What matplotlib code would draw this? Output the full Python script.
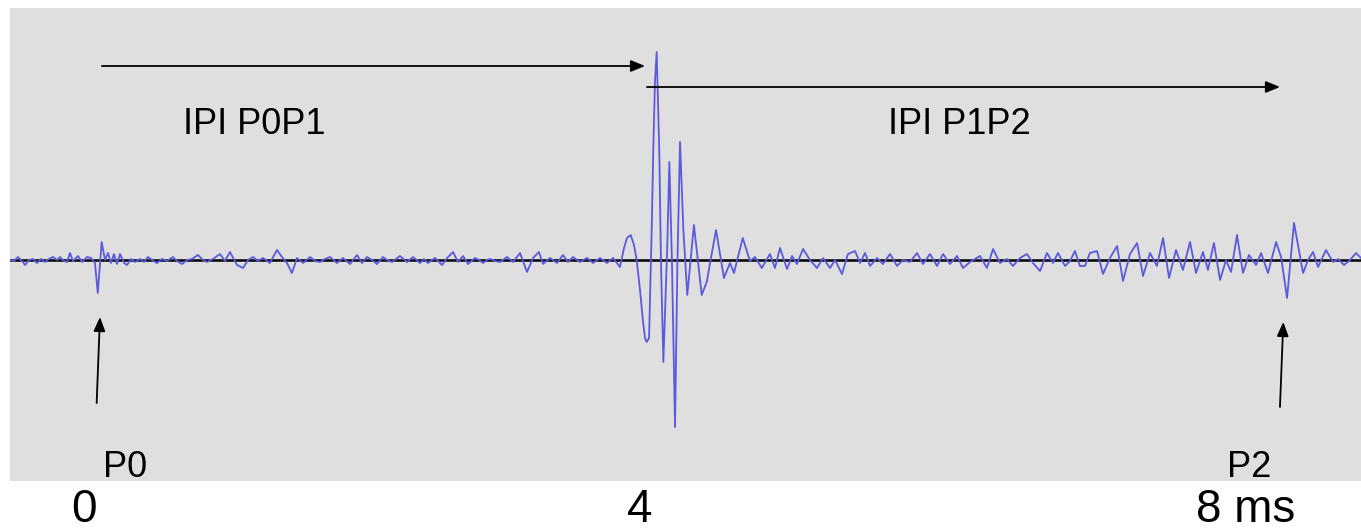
import matplotlib
matplotlib.use('Agg')
import matplotlib.pyplot as plt

# Recorded click waveform (time in ms, amplitude in arbitrary units)
time_ms = [
    -0.532, -0.504, -0.475, -0.446, -0.424, -0.396, -0.367, -0.338, -0.309, -0.281,
    -0.252, -0.223, -0.194, -0.173, -0.144, -0.122, -0.101, -0.079, -0.043, -0.014,
    0.022, 0.050, 0.079, 0.099, 0.127, 0.151, 0.173, 0.194, 0.216, 0.237,
    0.259, 0.288, 0.309, 0.338, 0.367, 0.403, 0.432, 0.460, 0.489, 0.525,
    0.561, 0.597, 0.640, 0.669, 0.705, 0.741, 0.777, 0.820, 0.856, 0.885,
    0.928, 0.978, 1.014, 1.050, 1.101, 1.144, 1.180, 1.216, 1.252, 1.288,
    1.338, 1.388, 1.424, 1.460, 1.496, 1.532, 1.576, 1.626, 1.662, 1.698,
    1.734, 1.770, 1.820, 1.863, 1.914, 1.964, 2.000, 2.036, 2.072, 2.108,
    2.151, 2.180, 2.216, 2.245, 2.273, 2.324, 2.367, 2.417, 2.446, 2.475,
    2.525, 2.576, 2.612, 2.655, 2.691, 2.727, 2.763, 2.813, 2.842, 2.871,
    2.899, 2.921, 2.957, 2.993, 3.014, 3.043, 3.086, 3.137, 3.187, 3.230,
    3.273, 3.302, 3.353, 3.403, 3.446, 3.482, 3.518, 3.568, 3.619, 3.662,
    3.712, 3.763, 3.806, 3.856, 3.885, 3.906, 3.933, 3.957, 3.976, 4.000,
    4.022, 4.036, 4.048, 4.065, 4.084, 4.096, 4.108, 4.120, 4.139, 4.151,
    4.168, 4.196, 4.211, 4.230, 4.252, 4.269, 4.288, 4.312, 4.340, 4.388,
    4.444, 4.480, 4.504, 4.547, 4.604, 4.647, 4.676, 4.739, 4.791, 4.827,
    4.876, 4.935, 4.971, 5.007, 5.058, 5.094, 5.129, 5.173, 5.223, 5.273,
    5.317, 5.367, 5.403, 5.453, 5.496, 5.547, 5.583, 5.619, 5.655, 5.705,
    5.748, 5.799, 5.849, 5.892, 5.942, 5.993, 6.036, 6.086, 6.137, 6.180,
    6.230, 6.281, 6.324, 6.374, 6.446, 6.496, 6.540, 6.590, 6.640, 6.683,
    6.734, 6.784, 6.827, 6.878, 6.928, 6.971, 7.007, 7.058, 7.094, 7.129,
    7.165, 7.201, 7.237, 7.288, 7.331, 7.381, 7.432, 7.475, 7.525, 7.576,
    7.619, 7.669, 7.719, 7.763, 7.806, 7.856, 7.906, 7.957, 8.000, 8.050,
    8.086, 8.129, 8.173, 8.216, 8.252, 8.295, 8.338, 8.381, 8.432, 8.468,
    8.518, 8.576, 8.612, 8.655, 8.705, 8.770, 8.806, 8.842, 8.878, 8.935,
    8.986, 9.022, 9.065, 9.108, 9.151, 9.187,
]
amplitude = [
    0.0, -0.1, 0.3, -0.1, -0.5, 0.0, 0.1, -0.3, 0.1, -0.2,
    0.1, 0.3, 0.0, 0.3, -0.1, -0.2, 0.7, -0.1, 0.4, -0.2,
    0.3, 0.2, -0.3, -3.3, 1.8, 0.0, 0.7, -0.3, 0.6, -0.4,
    0.6, -0.3, -0.5, 0.1, -0.2, 0.1, -0.2, 0.3, 0.0, -0.3,
    0.1, -0.1, 0.3, -0.1, -0.4, 0.0, 0.1, 0.5, 0.0, -0.2,
    0.1, 0.6, -0.1, 0.8, -0.5, -0.8, 0.0, 0.3, -0.1, 0.2,
    -0.3, 1.0, 0.3, -0.3, -1.3, 0.2, -0.3, 0.3, -0.1, -0.2,
    0.1, 0.3, -0.3, 0.2, -0.4, 0.5, -0.3, 0.3, 0.0, -0.4,
    0.3, 0.0, -0.2, 0.1, 0.4, -0.2, 0.3, -0.3, 0.1, -0.3,
    0.2, -0.5, 0.2, 0.8, -0.2, 0.4, -0.4, 0.2, 0.0, -0.3,
    0.0, 0.1, -0.1, -0.2, 0.0, 0.3, -0.2, 0.7, -1.2, 0.2,
    0.8, -0.4, 0.2, -0.3, 0.5, -0.2, 0.3, -0.2, 0.2, -0.3,
    0.2, -0.3, 0.2, -0.7, 1.2, 2.2, 2.5, 1.5, 0.0, -3.0,
    -6.2, -7.8, -8.2, -7.8, 3.0, 11.3, 18.0, 20.8, 10.7, -0.3,
    -10.2, 1.3, 9.8, -0.3, -16.7, -0.3, 11.8, 3.0, -3.5, 3.5,
    -3.5, -2.2, -0.3, 3.0, -1.8, -0.3, -1.3, 2.2, -0.1, 0.3,
    -0.8, 0.6, -0.8, 1.2, -0.9, 0.4, -0.4, 1.1, 0.0, -0.8,
    0.2, -0.8, 0.0, -1.4, 0.6, 0.9, -0.3, 0.7, -0.6, 0.2,
    -0.4, 0.6, -0.6, 0.0, -0.2, 0.7, -0.4, 0.6, -0.6, 0.6,
    -0.4, 0.4, -0.8, -0.2, 0.4, -0.8, 1.1, -0.3, 0.1, -0.6,
    0.2, 0.6, -0.3, -1.1, 0.7, -0.3, 0.7, -0.6, -0.1, 0.9,
    -0.6, -0.6, 0.7, 0.9, -1.4, 0.2, 1.4, -2.1, 0.6, 1.7,
    -1.6, 0.7, -0.6, 2.2, -1.8, 1.0, -1.0, 1.8, -1.3, 0.8,
    -1.0, 1.7, -2.0, 0.0, -1.2, 2.5, -1.3, 0.5, -0.5, 0.7,
    -1.3, 1.8, 0.3, -3.8, 3.7, -1.3, 0.0, 0.8, -0.7, 1.0,
    -0.2, 0.1, -0.5, 0.0, 0.7, 0.2,
]

tick_values = [0, 4, 8]
tick_labels = ['0', '4', '8 ms']
interval_labels = ['IPI P0P1', 'IPI P1P2']
pulse_labels = ['P0', 'P2']

FONT = 'Liberation Sans'

fig = plt.figure(figsize=(13.61, 5.30), dpi=100)
ax = fig.add_axes([10 / 1361, 49 / 530, 1351 / 1361, 473 / 530])
ax.set_facecolor('#dfdfdf')
ax.set_xlim(-0.5324, 9.187)
ax.set_ylim(-22.1, 25.2)

ax.axhline(0, color='black', lw=1.8, zorder=2)
ax.plot(time_ms, amplitude, color='#5a5adc', lw=1.3, zorder=3)

for s in ax.spines.values():
    s.set_visible(False)
ax.set_yticks([])
ax.set_xticks(tick_values)
ax.set_xticklabels(tick_labels, fontsize=33, family=FONT)
ax.tick_params(axis='x', length=0, pad=5)
ax.get_xticklabels()[-1].set_horizontalalignment('left')

arrow_kw = dict(arrowstyle='-|>,head_length=0.85,head_width=0.35', color='black',
                lw=1.3, mutation_scale=10, shrinkA=0, shrinkB=0)
ax.annotate('', xy=(4.036, 19.4), xytext=(0.129, 19.4), arrowprops=arrow_kw, zorder=4)
ax.annotate('', xy=(8.604, 17.3), xytext=(4.050, 17.3), arrowprops=arrow_kw, zorder=4)
ax.annotate('', xy=(0.115, -5.7), xytext=(0.091, -14.3), arrowprops=arrow_kw, zorder=4)
ax.annotate('', xy=(8.628, -6.2), xytext=(8.604, -14.7), arrowprops=arrow_kw, zorder=4)

ax.text(0.712, 12.6, interval_labels[0], fontsize=26, family=FONT, ha='left', va='baseline')
ax.text(5.784, 12.6, interval_labels[1], fontsize=26, family=FONT, ha='left', va='baseline')
ax.text(0.137, -21.7, pulse_labels[0], fontsize=26, family=FONT, ha='left', va='baseline')
ax.text(8.223, -21.7, pulse_labels[1], fontsize=26, family=FONT, ha='left', va='baseline')

fig.savefig('out.png', dpi=100)
